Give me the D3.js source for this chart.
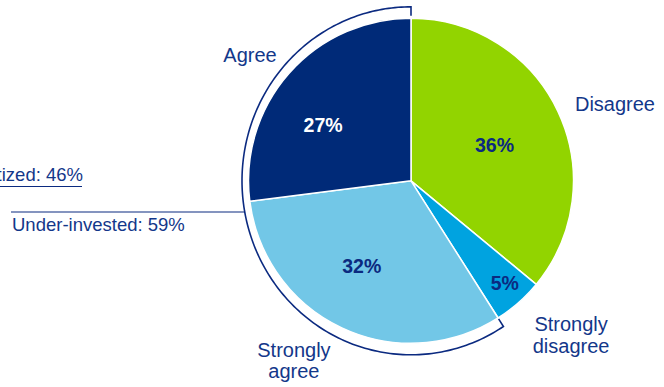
<!DOCTYPE html>
<html><head><meta charset="utf-8">
<script src="https://cdn.jsdelivr.net/npm/d3@7"></script>
<style>html,body{margin:0;padding:0;background:#fff;overflow:hidden}</style>
</head><body>
<svg id="c" width="664" height="387"></svg>
<script>
// ---- data ----
const categories = ["Disagree", "Strongly disagree", "Strongly agree", "Agree"];
const values = [36, 5, 32, 27];
const bracketLabels = ["Under-invested: 59%"];
const bracketGroup = ["Strongly agree", "Agree"];
const sideLabels = ["Prioritized: 46%"];

// ---- style / layout ----
const colors = {"Disagree":"#92D400","Strongly disagree":"#00A3E0","Strongly agree":"#72C7E7","Agree":"#002A78"};
const pctColors = {"Disagree":"#0B2A80","Strongly disagree":"#0B2A80","Strongly agree":"#0B2A80","Agree":"#ffffff"};
const textColor = "#13378A";
const cx = 411, cy = 180.8, R = 162.5;
// polar placement (deg from top, radius) for labels
const pctPos = {"Agree":[302.5,104.3],"Disagree":[66.7,90.9],"Strongly agree":[210.1,98.3],"Strongly disagree":[137.6,139]};
const catPos = {"Agree":[308,204.3],"Disagree":[69.2,218.2],"Strongly agree":[213.1,214.4],"Strongly disagree":[133.9,222.2]};
const catLines = {"Strongly agree":["Strongly","agree"],"Strongly disagree":["Strongly","disagree"]};
const bRx = 169, bRy = 174;

const svg = d3.select("#c");
const g = svg.append("g").attr("transform",`translate(${cx},${cy})`);
const font = "'Liberation Sans', Arial, sans-serif";

const data = categories.map((c,i)=>({cat:c, v:values[i]}));
const pie = d3.pie().value(d=>d.v).sort(null);
const arcs = pie(data);
const arc = d3.arc().innerRadius(0).outerRadius(R);

g.selectAll("path.slice").data(arcs).join("path")
  .attr("class","slice")
  .attr("d",arc)
  .attr("fill",d=>colors[d.data.cat])
  .attr("stroke","#fff").attr("stroke-width",1.5).attr("stroke-linejoin","round");

const polar = (deg,r)=>{const a=deg*Math.PI/180;return [r*Math.sin(a), -r*Math.cos(a)];};

// percent labels
g.selectAll("text.pct").data(arcs).join("text")
  .attr("class","pct")
  .attr("x",d=>polar(...pctPos[d.data.cat])[0])
  .attr("y",d=>polar(...pctPos[d.data.cat])[1])
  .attr("dy","0.36em")
  .attr("text-anchor","middle")
  .attr("font-family",font).attr("font-weight","bold").attr("font-size",19.5)
  .attr("fill",d=>pctColors[d.data.cat])
  .text(d=>d.data.v+"%");

// category labels
const lh = 21.5, fs = 20;
arcs.forEach(d=>{
  const [x,y] = polar(...catPos[d.data.cat]);
  const lines = catLines[d.data.cat] || [d.data.cat];
  const t = g.append("text").attr("text-anchor","middle")
    .attr("font-family",font).attr("font-size",fs).attr("fill",textColor);
  const y0 = y - (lines.length-1)*lh/2;
  lines.forEach((ln,i)=>{
    t.append("tspan").attr("x",x).attr("y",y0+i*lh).attr("dy","0.36em").text(ln);
  });
});

// bracket around group
const grp = arcs.filter(d=>bracketGroup.includes(d.data.cat));
const a0 = d3.min(grp,d=>d.startAngle), a1 = d3.max(grp,d=>d.endAngle);
const ellR = a=>1/Math.sqrt(Math.pow(Math.sin(a)/bRx,2)+Math.pow(Math.cos(a)/bRy,2));
const pts = d3.range(a0,a1+1e-9,(a1-a0)/200).map(a=>[a,ellR(a)]);
const tick = 9;
const pt = (a,r)=>[r*Math.sin(a), -r*Math.cos(a)];
const startIn = pt(a0, ellR(a0)-tick), endIn = pt(a1, ellR(a1)-tick);
const bracketPath = d3.path();
bracketPath.moveTo(...startIn);
pts.forEach(([a,r])=>bracketPath.lineTo(...pt(a,r)));
bracketPath.lineTo(...endIn);
g.append("path").attr("d",bracketPath.toString())
  .attr("fill","none").attr("stroke","#0B2A80").attr("stroke-width",1.6);

// leader line for bracket label
const ly = 212 - cy;
const lx = -bRx*Math.sqrt(1-Math.pow(ly/bRy,2));
svg.append("line").attr("x1",11).attr("x2",cx+lx).attr("y1",212).attr("y2",212)
  .attr("stroke","#0B2A80").attr("stroke-width",1.2);
svg.append("text").attr("x",12).attr("y",231)
  .attr("font-family",font).attr("font-size",18.5).attr("fill",textColor)
  .text(bracketLabels[0]);

// side label (cut off by the frame)
svg.append("text").attr("x",83).attr("y",181).attr("text-anchor","end")
  .attr("font-family",font).attr("font-size",18.5).attr("fill",textColor)
  .text(sideLabels[0]);
svg.append("line").attr("x1",0).attr("x2",82).attr("y1",186.5).attr("y2",186.5)
  .attr("stroke","#0B2A80").attr("stroke-width",1.2);
</script>
</body></html>
